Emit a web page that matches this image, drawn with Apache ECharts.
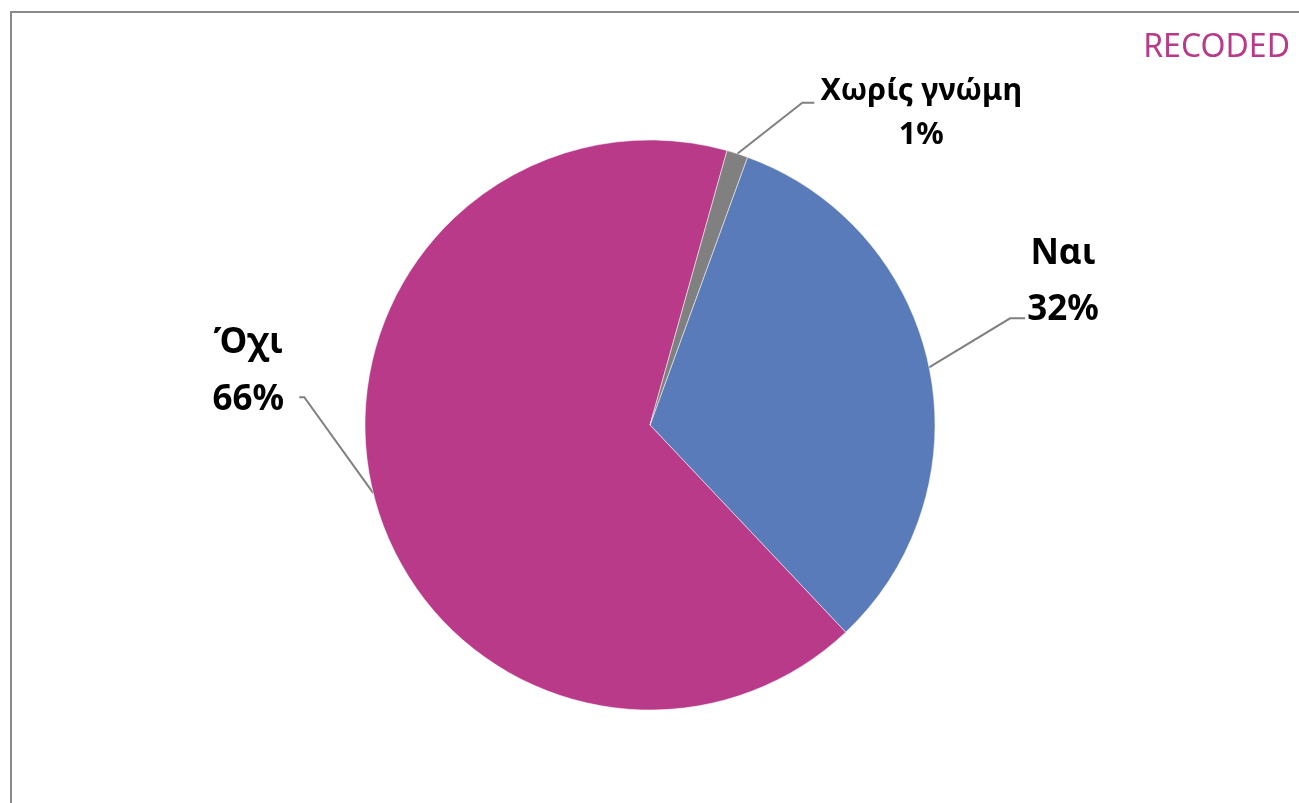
<!DOCTYPE html>
<html>
<head>
<meta charset="utf-8">
<script src="https://cdn.jsdelivr.net/npm/echarts@6/dist/echarts.min.js"></script>
<style>
html,body{margin:0;padding:0;background:#fff;}
#chart{width:1299px;height:803px;}
</style>
</head>
<body>
<div id="chart"></div>
<script>
// Data (clockwise from the top-right)
const categories = ['Ναι', 'Όχι', 'Χωρίς γνώμη'];
const values = [32.4, 66.4, 1.2];
const percentLabels = ['32%', '66%', '1%'];
const sliceColors = ['#5A7BBA', '#B83A88', '#808080'];
const cornerTitle = 'RECODED';

// Label placement offsets relative to the slice edge anchor (style only)
const labelOffsets = [
  { corner: [81, -49], end: [96, -49], text: [134, -85], size: 35, lh: 56, w: 140 },
  { corner: [-69, -96], end: [-74, -96], text: [-125, -122], size: 35, lh: 57, w: 140 },
  { corner: [65, -51], end: [77, -51], text: [184, -40], size: 30.5, lh: 44, w: 260 }
];

const chart = echarts.init(document.getElementById('chart'));
const fontFam = '"Noto Sans", "DejaVu Sans", sans-serif';

chart.setOption({
  animation: false,
  backgroundColor: '#ffffff',
  title: {
    text: cornerTitle,
    right: 4,
    top: 27,
    textStyle: { color: '#B83A88', fontSize: 32, fontWeight: 'normal', fontFamily: fontFam }
  },
  graphic: [{
    type: 'rect',
    shape: { x: 11, y: 12, width: 1400, height: 900 },
    style: { fill: 'none', stroke: '#8a8a8a', lineWidth: 2 },
    silent: true
  }],
  series: [{
    type: 'pie',
    center: [650, 425],
    radius: 285,
    startAngle: 70,
    clockwise: true,
    avoidLabelOverlap: false,
    itemStyle: { borderColor: '#ffffff', borderWidth: 0.5 },
    label: {
      show: true,
      position: 'outside',
      color: '#000',
      fontFamily: fontFam,
      fontWeight: 'bold'
    },
    labelLine: {
      show: true,
      lineStyle: { color: '#808080', width: 2 }
    },
    labelLayout: function (params) {
      const o = labelOffsets[params.dataIndex];
      const a = params.labelLinePoints[0];
      return {
        x: a[0] + o.text[0],
        y: a[1] + o.text[1],
        align: 'center',
        verticalAlign: 'middle',
        labelLinePoints: [
          [a[0], a[1]],
          [a[0] + o.corner[0], a[1] + o.corner[1]],
          [a[0] + o.end[0], a[1] + o.end[1]]
        ]
      };
    },
    data: categories.map((c, i) => ({
      name: c,
      value: values[i],
      itemStyle: { color: sliceColors[i] },
      label: {
        formatter: '{t|' + c + '}\n{t|' + percentLabels[i] + '}',
        rich: {
          t: {
            fontSize: labelOffsets[i].size,
            lineHeight: labelOffsets[i].lh,
            fontWeight: 'bold',
            fontFamily: fontFam,
            color: '#000',
            width: labelOffsets[i].w,
            align: 'center'
          }
        }
      }
    }))
  }]
});
</script>
</body>
</html>
